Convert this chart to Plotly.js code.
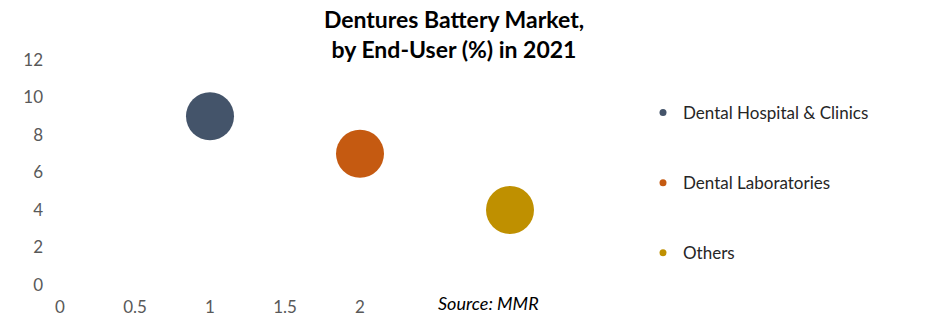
<!DOCTYPE html>
<html>
<head>
<meta charset="utf-8">
<script src="https://cdn.plot.ly/plotly-3.0.1.min.js"></script>
<style>html,body{margin:0;padding:0;background:#fff;}#chart{width:941px;height:324px;}</style>
</head>
<body>
<div id="chart"></div>
<script>
const categories = ["Dental Hospital & Clinics", "Dental Laboratories", "Others"];
const xValues = [1, 2, 3];
const yValues = [9, 7, 4];
const colors = ["#44546A", "#C55A11", "#BF9000"];
const xTicks = [0, 0.5, 1, 1.5, 2];
const xTickLabels = ["0", "0.5", "1", "1.5", "2"];
const yTicks = [0, 2, 4, 6, 8, 10, 12];

const traces = [];
categories.forEach((name, i) => {
  traces.push({
    type: "scatter", mode: "markers", name: name,
    x: [xValues[i]], y: [yValues[i]],
    marker: {size: 48, color: colors[i], line: {width: 0}},
    cliponaxis: false, showlegend: false, hoverinfo: "skip"
  });
});
categories.forEach((name, i) => {
  traces.push({
    type: "scatter", mode: "markers", name: name,
    x: [null], y: [null],
    marker: {size: 7, color: colors[i]},
    legendgroup: "g" + i, showlegend: true
  });
});

const layout = {
  width: 941, height: 324,
  margin: {l: 60, r: 431, t: 60, b: 39},
  paper_bgcolor: "#fff", plot_bgcolor: "#fff",
  font: {family: "Lato, sans-serif", color: "#595959", size: 17},
  title: {
    text: "<b>Dentures Battery Market,<br>by End-User (%) in 2021</b>",
    x: 454/941, xref: "container", xanchor: "center",
    y: 1 - 28/324, yref: "container", yanchor: "top",
    font: {family: "Lato, sans-serif", size: 23, color: "#000"}
  },
  xaxis: {
    range: [0, 3], tickvals: xTicks, ticktext: xTickLabels,
    showgrid: false, zeroline: false, showline: false, ticks: "",
    ticklabelstandoff: 10, tickfont: {size: 17, color: "#595959"}
  },
  yaxis: {
    range: [0, 12], tickvals: yTicks,
    showgrid: false, zeroline: false, showline: false, ticks: "",
    ticklabelstandoff: 16, tickfont: {size: 17, color: "#595959"}
  },
  legend: {
    x: 643/941, xref: "container", xanchor: "left",
    y: 1 - 95/324, yref: "container", yanchor: "top",
    font: {size: 17, color: "#262626"},
    tracegroupgap: 45, bgcolor: "rgba(0,0,0,0)", maxheight: 300
  },
  annotations: [{
    text: "<i>Source: MMR</i>", xref: "paper", yref: "paper",
    x: (488-60)/450, y: (285-303)/225, xanchor: "center", yanchor: "middle",
    showarrow: false, font: {size: 18, color: "#000"}
  }]
};

Plotly.newPlot("chart", traces, layout, {displayModeBar: false, staticPlot: true});
</script>
</body>
</html>
